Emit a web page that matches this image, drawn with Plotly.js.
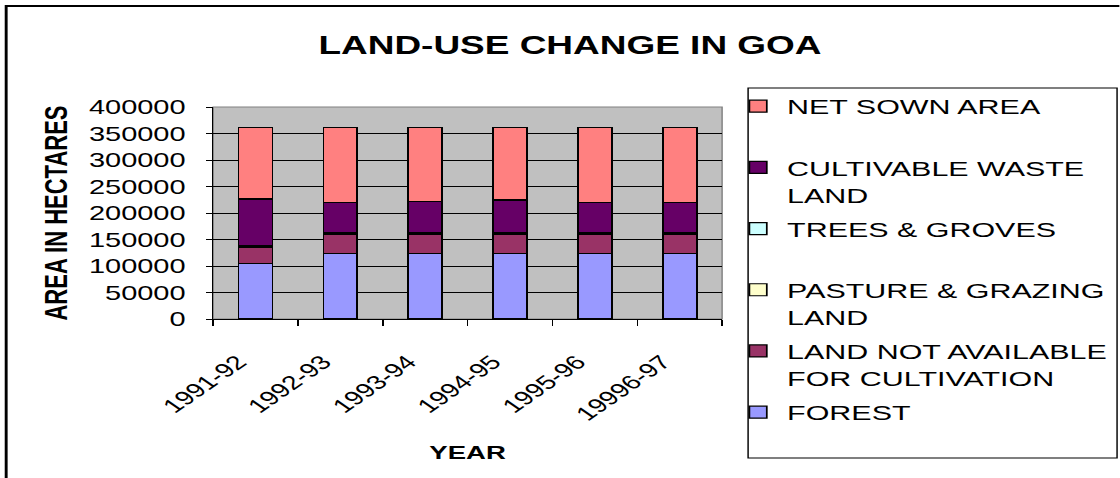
<!DOCTYPE html>
<html>
<head>
<meta charset="utf-8">
<script src="https://cdn.plot.ly/plotly-3.0.1.min.js"></script>
<style>
  html, body { margin: 0; padding: 0; background: #ffffff; overflow: hidden; }
  #wrap { width: 1120px; height: 478px; overflow: hidden; }
  /* the chart is laid out narrow and widened, like a stretched spreadsheet chart */
  #chart { transform-origin: 0 0; }
</style>
</head>
<body>
<div id="wrap"><div id="chart"></div></div>
<script>
// Land utilisation in Goa, hectares
const years = ["1991-92", "1992-93", "1993-94", "1994-95", "1995-96", "19996-97"];
const forest          = [105000, 124000, 124000, 124000, 124000, 124000];
const landNotAvail    = [30700, 36400, 36400, 36400, 36400, 36400];
const pastureGrazing  = [1300, 1300, 1300, 1300, 1300, 1300];
const treesGroves     = [1000, 1000, 1000, 1000, 1000, 1000];
const cultivableWaste = [88300, 57500, 58600, 61800, 57500, 57500];
const netSown         = [134600, 140800, 139700, 136500, 140800, 140800];

// stacking order, bottom to top
const seriesNames = [
  "FOREST",
  "LAND NOT AVAILABLE<br>FOR CULTIVATION",
  "PASTURE & GRAZING<br>LAND",
  "TREES & GROVES<br> ",
  "CULTIVABLE WASTE<br>LAND",
  "NET SOWN AREA<br> "
];
const seriesValues = [forest, landNotAvail, pastureGrazing, treesGroves, cultivableWaste, netSown];
const seriesColors = ["#9999FF", "#993366", "#FFFFCC", "#CCFFFF", "#660066", "#FF8080"];

// horizontal widening factor and page size
const SX = 1.45;
const PAGE_W = 1120, PAGE_H = 478;
const W = PAGE_W / SX;

// plot area in page pixels
const plotL = 213, plotR = 722, plotT = 107, plotB = 319;
const mL = plotL / SX, mR = W - plotR / SX, mT = plotT, mB = PAGE_H - plotB;
const plotWu = W - mL - mR, plotHu = PAGE_H - mT - mB;
const px = sx => (sx / SX - mL) / plotWu;
const py = sy => (plotB - sy) / plotHu;

const FONT = "Liberation Sans, Arial, sans-serif";

// legend lists the top of the stack first
const traces = seriesNames.map((name, i) => ({
  type: "bar",
  name: name,
  x: years,
  y: seriesValues[i],
  legendgroup: "g" + i,
  legendrank: seriesNames.length - i,
  marker: { color: seriesColors[i], line: { color: "#000000", width: 1.2 } },
  hoverinfo: "skip"
}));

const layout = {
  width: W,
  height: PAGE_H,
  margin: { l: mL, r: mR, t: mT, b: mB, autoexpand: false },
  paper_bgcolor: "#ffffff",
  plot_bgcolor: "#C0C0C0",
  barmode: "stack",
  bargap: 0.6,
  font: { family: FONT, color: "#000000" },
  title: {
    text: "LAND-USE CHANGE IN GOA",
    font: { family: FONT, size: 25.5, weight: "bold", color: "#000000" },
    x: 570 / PAGE_W, xref: "container", xanchor: "center",
    y: 1 - 45 / PAGE_H, yref: "container", yanchor: "middle"
  },
  xaxis: {
    type: "category",
    showgrid: false,
    showline: true, linecolor: "#000000", linewidth: 1,
    ticks: "outside", tickson: "boundaries", ticklen: 6, tickcolor: "#000000", tickwidth: 1,
    tickangle: -45,
    ticklabelstandoff: 23,
    ticklabelshift: -12,
    tickfont: { family: FONT, size: 19.5, color: "#000000" },
    title: { text: "YEAR", font: { family: FONT, size: 19, weight: "bold" }, standoff: 22 }
  },
  yaxis: {
    range: [0, 400000],
    dtick: 50000,
    tickformat: "d",
    showgrid: true, gridcolor: "#000000", gridwidth: 1,
    zeroline: false,
    showline: true, linecolor: "#000000", linewidth: 1,
    ticks: "outside", ticklen: 4, tickcolor: "#000000", tickwidth: 1,
    ticklabelstandoff: 10,
    tickfont: { family: FONT, size: 20, color: "#000000" },
    title: { text: "AREA IN HECTARES", font: { family: FONT, size: 22, weight: "bold" }, standoff: 8 }
  },
  showlegend: true,
  legend: {
    x: px(729), xanchor: "left",
    y: py(86), yanchor: "top",
    bgcolor: "rgba(0,0,0,0)",
    borderwidth: 0,
    traceorder: "grouped",
    tracegroupgap: 3.6,
    valign: "top",
    maxheight: 470,
    font: { family: FONT, size: 21, color: "#000000" }
  },
  shapes: [
    // plot-area edge
    { type: "rect", xref: "paper", yref: "paper", x0: 0, x1: 1, y0: 0, y1: 1,
      line: { color: "#808080", width: 1 }, layer: "below" },
    // legend box
    { type: "rect", xref: "paper", yref: "paper", x0: px(748), x1: px(1117), y0: py(458), y1: py(88),
      line: { color: "#000000", width: 1 } },
    // chart frame
    { type: "rect", xref: "paper", yref: "paper", x0: px(6), x1: px(1140), y0: py(500), y1: py(6),
      line: { color: "#000000", width: 2 } }
  ]
};

const el = document.getElementById("chart");
el.style.transform = "scaleX(" + SX + ")";
Plotly.newPlot(el, traces, layout, { staticPlot: true, displayModeBar: false });
</script>
</body>
</html>
